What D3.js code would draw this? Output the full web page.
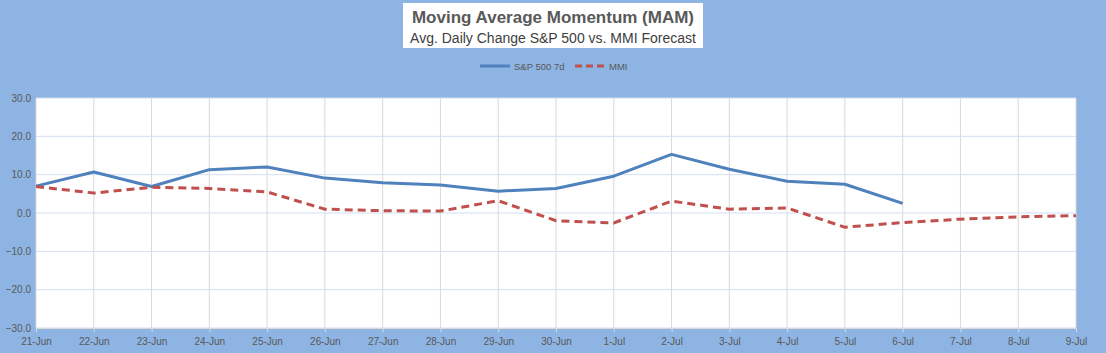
<!DOCTYPE html>
<html><head><meta charset="utf-8">
<script src="https://cdn.jsdelivr.net/npm/d3@7"></script>
<style>body{margin:0;background:#8db4e2;}svg{display:block;font-family:"Liberation Sans",Arial,sans-serif;}</style>
</head><body><svg id="c" width="1106" height="353"></svg>
<script>
const dates = ["21-Jun","22-Jun","23-Jun","24-Jun","25-Jun","26-Jun","27-Jun","28-Jun","29-Jun","30-Jun","1-Jul","2-Jul","3-Jul","4-Jul","5-Jul","6-Jul","7-Jul","8-Jul","9-Jul"];
const sp500 = [7.0,10.7,6.9,11.3,12.0,9.1,7.9,7.3,5.7,6.4,9.6,15.3,11.4,8.3,7.5,2.5];
const mmi = [6.9,5.2,6.7,6.4,5.5,1.0,0.6,0.5,3.2,-2.0,-2.6,3.1,1.0,1.3,-3.7,-2.5,-1.6,-1.0,-0.7];
const yTicks = [-30,-20,-10,0,10,20,30];
const seriesNames = ["S&P 500 7d","MMI"];

const svg = d3.select("#c");
const L=36,R=1076,T=98,B=328;
const x = d3.scalePoint().domain(dates).range([L,R]);
const y = d3.scaleLinear().domain([-30,30]).range([B,T]);

svg.append("rect").attr("width",1106).attr("height",353).attr("fill","#8db4e2");
svg.append("rect").attr("x",L).attr("y",T).attr("width",R-L).attr("height",B-T).attr("fill","#fff");

// grid
svg.append("g").selectAll("line").data(dates).join("line")
  .attr("x1",d=>x(d)).attr("x2",d=>x(d)).attr("y1",T).attr("y2",B)
  .attr("stroke","#d9d9d9").attr("stroke-width",1);
svg.append("g").selectAll("line").data(yTicks).join("line")
  .attr("x1",L).attr("x2",R).attr("y1",d=>y(d)).attr("y2",d=>y(d))
  .attr("stroke","#d3dff1").attr("stroke-width",1);

// axes
const xa = svg.append("g").attr("transform",`translate(0,${B})`)
  .call(d3.axisBottom(x).tickSize(4).tickPadding(6));
xa.select(".domain").attr("stroke","#d9d9d9");
xa.selectAll(".tick line").attr("stroke","#d9d9d9");
xa.selectAll("text").attr("fill","#595959").attr("font-size","10px");
const ya = svg.append("g").attr("transform",`translate(${L},0)`)
  .call(d3.axisLeft(y).tickValues(yTicks).tickSize(0).tickPadding(5).tickFormat(d3.format(".1f")));
ya.select(".domain").remove();
ya.selectAll("text").attr("fill","#595959").attr("font-size","10px");

// lines
const line = d3.line().x((d,i)=>x(dates[i])).y(d=>y(d));
svg.append("path").datum(sp500).attr("d",line).attr("fill","none")
  .attr("stroke","#4f81bd").attr("stroke-width",3).attr("stroke-linejoin","round");
svg.append("path").datum(mmi).attr("d",line).attr("fill","none")
  .attr("stroke","#c0504d").attr("stroke-width",3).attr("stroke-dasharray","8,5");

// title
svg.append("rect").attr("x",403).attr("y",3).attr("width",300).attr("height",45).attr("fill","#fff");
svg.append("text").attr("x",553).attr("y",23).attr("text-anchor","middle")
  .attr("font-size","17px").attr("font-weight","bold").attr("fill","#595959")
  .text("Moving Average Momentum (MAM)");
svg.append("text").attr("x",553).attr("y",43).attr("text-anchor","middle")
  .attr("font-size","14px").attr("fill","#404040")
  .text("Avg. Daily Change S&P 500 vs. MMI Forecast");

// legend
const lg = svg.append("g");
lg.append("line").attr("x1",480).attr("x2",510).attr("y1",66).attr("y2",66).attr("stroke","#4f81bd").attr("stroke-width",3);
lg.append("text").attr("x",514).attr("y",69.5).attr("font-size","9.5px").attr("fill","#595959").text(seriesNames[0]);
lg.append("line").attr("x1",575).attr("x2",604).attr("y1",66).attr("y2",66).attr("stroke","#c0504d").attr("stroke-width",3).attr("stroke-dasharray","7,4");
lg.append("text").attr("x",609).attr("y",69.5).attr("font-size","9.5px").attr("fill","#595959").text(seriesNames[1]);
</script></body></html>
